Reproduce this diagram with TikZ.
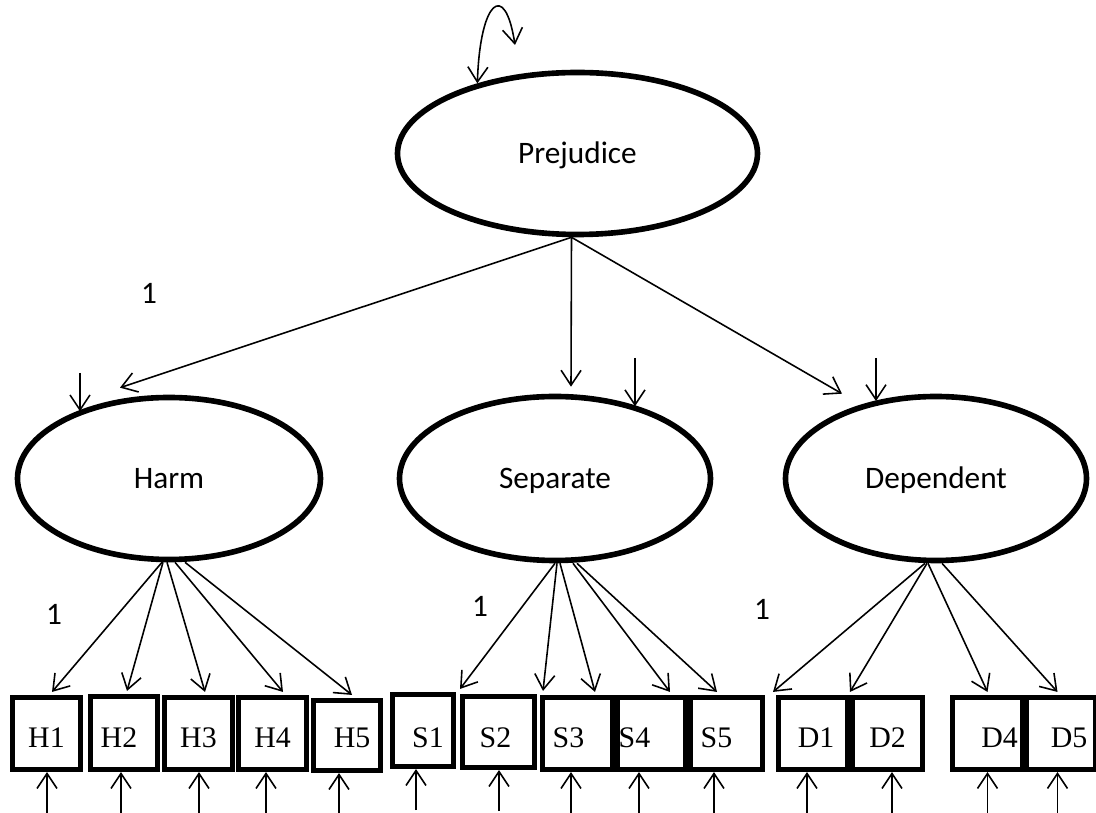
\documentclass[tikz,border=0pt]{standalone}
\usepackage{fontspec}
\setmainfont{Liberation Serif}
\newfontfamily\calibri{Carlito}
\usetikzlibrary{arrows.meta,calc,shapes.geometric}
\newlength{\pxl}
\setlength{\pxl}{0.02cm}

\begin{document}
\begin{tikzpicture}[x=0.02cm,y=-0.02cm,
  >={Straight Barb[length=3mm,width=4mm]},
  lat/.style={draw,ellipse,line width=3.2pt,inner sep=0pt,text height=11.5pt,text depth=0pt,
    font=\calibri\fontsize{17.8}{20}\selectfont},
  obs/.style={draw,rectangle,line width=2.9pt,inner sep=0pt,text depth=0pt,
    font=\fontsize{17}{20}\selectfont},
  arr/.style={->,line width=0.9pt},
  lab/.style={font=\calibri\fontsize{17.8}{20}\selectfont}]
\useasboundingbox (0,0) rectangle (1096,813);
% latent factors
\node[lat,minimum width=360\pxl,minimum height=162\pxl] (prej) at (577.5,153.5) {Prejudice};
\node[lat,minimum width=303\pxl,minimum height=162\pxl] (harm) at (169,478.5) {Harm};
\node[lat,minimum width=311\pxl,minimum height=164\pxl] (sep) at (555,478.5) {Separate};
\node[lat,minimum width=301\pxl,minimum height=164\pxl] (dep) at (936,478.5) {Dependent};
% indicators
\foreach \b/\x/\y/\w/\h/\d/\th in {H1/46.5/733.5/68/72/0/16.4, H2/124/733/67/73/-5/17,
    H3/198.5/733.5/68/72/0/16.4, H4/272.5/733.5/68/72/0/16.4, H5/347/735.5/67/70/5/14.2,
    S1/423/730.5/61/72/5/19.8, S2/498.5/732/72/71/-3/18.1, S3/577.5/733.5/70/72/-9/16.4,
    S4/651.5/733.5/68/72/-17/16.4, S5/726.5/733.5/72/72/-10/16.4, D1/813/733.5/69/72/3/16.4,
    D2/887.5/733.5/70/72/0/16.4, D4/987.5/733.5/70/72/12/16.4, D5/1061/733.5/70/72/8/16.4}
  \node[obs,minimum width=\w\pxl,minimum height=\h\pxl,text height=\th pt] (\b) at (\x,\y)
    {\hspace*{\d\pxl}\b\hspace*{-\d\pxl}};
% second order loadings
\draw[arr] ($(prej.south)+(-6,0)$) -- ($(harm.north)+(-49,-7)$);
\draw[arr] ($(prej.south)+(-6,0)$) -- ($(sep.north)+(16,-7)$);
\draw[arr] ($(prej.south)+(-6,0)$) -- ($(dep.north)+(-94,0)$);
% variance of Prejudice
\coordinate (loopend) at (515,45);
\draw[<->,line width=0.9pt] (prej.145) .. controls (480,0) and (505,-20) .. (loopend);
% disturbances
\coordinate (dharm) at (80,373);
\coordinate (dsep) at (635,358);
\coordinate (ddep) at (876,358);
\draw[arr] (dharm) -- (dharm |- harm.144);
\draw[arr] (dsep) -- (dsep |- sep.41);
\draw[arr] (ddep) -- (ddep |- dep.129);
% first order loadings
\foreach \b/\s/\t in {H1/-7/5.5, H2/-6/3, H3/-2/6.5, H4/6/10.5, H5/16/5}
  \draw[arr] ($(harm.south)+(\s,0)$) -- ($(\b.north)+(\t,-3)$);
\foreach \b/\s/\t in {S1/0/37, S2/2/44.5, S3/5/17.5, S4/18/18.5, S5/22/-9.5}
  \draw[arr] ($(sep.south)+(\s,0)$) -- ($(\b.north)+(\t,-3)$);
\foreach \b/\s/\t in {D1/-11/-40, D2/-9/-37.5, D4/-8/0, D5/6/-3.5}
  \draw[arr] ($(dep.south)+(\s,0)$) -- ($(\b.north)+(\t,-3)$);
% error terms
\foreach \b/\d in {H1/0.5, H2/-3, H3/0.5, H4/-6.5, H5/-8, S1/-7, S2/0.5, S3/-6.5, S4/-12.5,
    S5/-12.5, D1/-6, D2/4.5, D4/0, D5/-3.5}{
  \coordinate (e\b) at ($(\b.south)+(\d,41)$);
  \draw[arr] (e\b) -- ($(\b.south)+(\d,0)$);
}
% fixed loadings
\node[lab] (one1) at (149,293) {1};
\node[lab] (one2) at (54,614) {1};
\node[lab] (one3) at (480,606) {1};
\node[lab] (one4) at (762,609) {1};
\end{tikzpicture}
\end{document}
